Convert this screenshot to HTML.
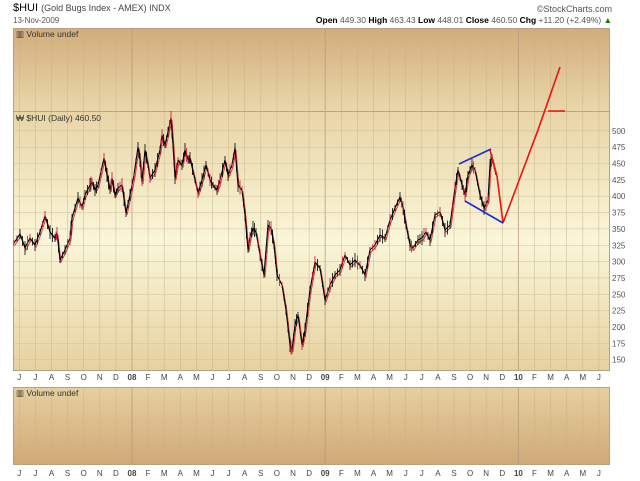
<!DOCTYPE html>
<html><head><meta charset="utf-8"><style>
body{margin:0;background:#fff;width:640px;height:481px;overflow:hidden}
svg{display:block;font-family:"Liberation Sans",sans-serif}
</style></head><body>
<svg width="640" height="481" viewBox="0 0 640 481" xmlns="http://www.w3.org/2000/svg">
<defs>
<linearGradient id="g1" x1="0" y1="0" x2="0" y2="1"><stop offset="0" stop-color="#d2ad7c"/><stop offset="1" stop-color="#e9d7aa"/></linearGradient>
<linearGradient id="g2" x1="0" y1="0" x2="0" y2="1"><stop offset="0" stop-color="#e8d5a6"/><stop offset="0.5" stop-color="#faf6d9"/><stop offset="1" stop-color="#e6d1a0"/></linearGradient>
<linearGradient id="g3" x1="0" y1="0" x2="0" y2="1"><stop offset="0" stop-color="#e6cf9f"/><stop offset="1" stop-color="#d0a978"/></linearGradient>
</defs>
<text x="13" y="11" font-size="11" fill="#000">$HUI <tspan font-size="9" fill="#444">(Gold Bugs Index - AMEX) INDX</tspan></text>
<text x="13" y="23" font-size="8" fill="#555">13-Nov-2009</text>
<text x="612" y="12" font-size="9" fill="#555" text-anchor="end">©StockCharts.com</text>
<text x="612" y="23" font-size="8.5" fill="#555" text-anchor="end"><tspan font-weight="bold" fill="#000">Open</tspan> 449.30 <tspan font-weight="bold" fill="#000">High</tspan> 463.43 <tspan font-weight="bold" fill="#000">Low</tspan> 448.01 <tspan font-weight="bold" fill="#000">Close</tspan> 460.50 <tspan font-weight="bold" fill="#000">Chg</tspan> +11.20 (+2.49%) <tspan fill="#080">▲</tspan></text>
<rect x="13.5" y="28.5" width="596" height="83" fill="url(#g1)" stroke="#b9a183"/>
<rect x="13.5" y="111.5" width="596" height="259" fill="url(#g2)" stroke="#b9a183"/>
<rect x="13.5" y="387.5" width="596" height="77" fill="url(#g3)" stroke="#b9a183"/>
<g id="vg" stroke="#c7b089" stroke-width="0.6" opacity="0.75"></g>
<g id="hg" stroke="#d2bf98" stroke-width="0.5"></g>
<g id="yl" font-size="8" fill="#555"></g>
<g id="xl" font-size="8" fill="#444" text-anchor="middle"></g>
<text x="16" y="37" font-size="8.5" fill="#333">▥ Volume undef</text>
<text x="16" y="121" font-size="8.5" fill="#333">₩ $HUI (Daily) 460.50</text>
<text x="16" y="396" font-size="8.5" fill="#333">▥ Volume undef</text>
<polyline id="pr" fill="none" stroke="#c8102e" stroke-width="1" opacity="0.8" points=""/>
<polyline id="pb" fill="none" stroke="#000" stroke-width="1.1" points=""/>
<g id="tk" stroke="#000" stroke-width="0.8"></g>
<polyline fill="none" stroke="#e11" stroke-width="1.6" points="490,150 494,165 497,176 503,223 538,130 560,67"/>
<line x1="548" y1="111" x2="565" y2="111" stroke="#e11" stroke-width="1.6"/>
<line x1="459" y1="164" x2="491" y2="149" stroke="#1a2be0" stroke-width="1.6"/>
<line x1="465" y1="201" x2="503" y2="223" stroke="#1a2be0" stroke-width="1.6"/>
</svg>
<script>
const NS="http://www.w3.org/2000/svg";
function el(p,t,a,txt){const e=document.createElementNS(NS,t);for(const k in a)e.setAttribute(k,a[k]);if(txt)e.textContent=txt;document.getElementById(p).appendChild(e);return e;}
const labs="J J A S O N D 08 F M A M J J A S O N D 09 F M A M J J A S O N D 10 F M A M J".split(" ");
labs.forEach((l,i)=>{const x=19.3+i*16.1;const yr=l.length==2;
[[29,111],[112,370],[388,464]].forEach(r=>el("vg","line",{x1:x,x2:x,y1:r[0],y2:r[1],stroke:yr?"#b39a78":"#c7b089","stroke-width":yr?1:0.6}));
el("xl","text",{x:x,y:380,"font-weight":yr?"bold":"normal"},l);
el("xl","text",{x:x,y:476,"font-weight":yr?"bold":"normal"},l);});
for(let k=0;k<=14;k++){const v=500-25*k,y=130.8+16.35*k;
el("hg","line",{x1:14,x2:609,y1:y,y2:y});el("yl","text",{x:612,y:y+3},String(v));}
const P=[[14,243],[20,234],[25,248],[30,238],[35,245],[40,232],[45,216],[50,232],[55,238],[57,233],[60,260],[65,250],[70,238],[72,218],[78,198],[82,207],[85,195],[90,185],[92,182],[95,190],[98,185],[104,158],[107,175],[110,190],[112,178],[115,195],[118,188],[122,185],[126,213],[130,195],[134,175],[138,147],[140,160],[142,182],[145,150],[148,165],[150,178],[155,170],[160,150],[162,135],[165,145],[168,132],[171,118],[173,145],[175,178],[178,160],[182,165],[185,150],[188,160],[190,158],[195,180],[198,193],[202,180],[206,165],[210,180],[213,185],[217,190],[220,180],[225,160],[228,175],[232,165],[235,148],[238,185],[242,190],[245,215],[248,250],[250,237],[253,228],[256,232],[260,255],[264,275],[268,225],[271,228],[274,245],[277,275],[282,285],[286,310],[290,345],[292,350],[295,325],[298,315],[302,345],[305,330],[310,290],[315,262],[320,268],[325,300],[330,285],[335,275],[340,270],[345,255],[350,265],[355,260],[360,265],[365,275],[370,250],[375,245],[380,235],[385,238],[390,220],[395,208],[400,197],[403,208],[406,225],[410,245],[413,248],[418,240],[422,238],[426,232],[430,240],[435,215],[440,212],[445,230],[450,225],[455,188],[458,170],[462,185],[465,195],[468,175],[472,165],[475,170],[480,195],[484,208],[488,200],[490,165],[492,157],[496,175]];
document.getElementById("pb").setAttribute("points",P.map(p=>p.join(",")).join(" "));
document.getElementById("pr").setAttribute("points",P.map(p=>(p[0]+1)+","+(p[1]+2)).join(" "));
for(let i=0;i<P.length-1;i++){const a=P[i],b=P[i+1];for(let t=0;t<1;t+=0.5){const x=a[0]+(b[0]-a[0])*t,y=a[1]+(b[1]-a[1])*t;const h=3+((i*7+t*10)%5);
el("tk","line",{x1:x,x2:x,y1:y-h,y2:y+h,stroke:(i+t*2)%3<1?"#c8102e":"#000"});}}
</script>
</body></html>
